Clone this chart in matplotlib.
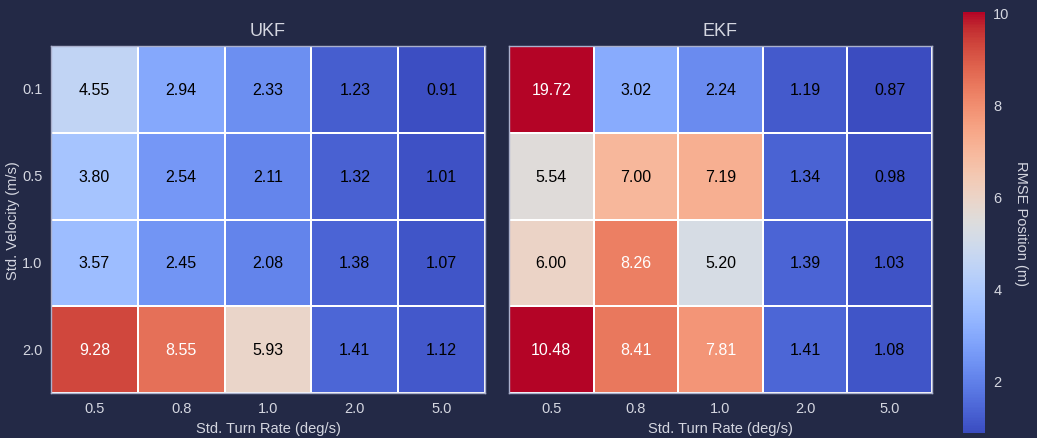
import matplotlib
matplotlib.use("Agg")
import matplotlib.pyplot as plt
import numpy as np
import seaborn as sns

plt.rcParams['font.family'] = ['Liberation Sans', 'DejaVu Sans']

turn_rates = ["0.5", "0.8", "1.0", "2.0", "5.0"]
velocities = ["0.1", "0.5", "1.0", "2.0"]

ukf_rmse = [
    [4.55, 2.94, 2.33, 1.23, 0.91],
    [3.80, 2.54, 2.11, 1.32, 1.01],
    [3.57, 2.45, 2.08, 1.38, 1.07],
    [9.28, 8.55, 5.93, 1.41, 1.12],
]
ekf_rmse = [
    [19.72, 3.02, 2.24, 1.19, 0.87],
    [5.54, 7.00, 7.19, 1.34, 0.98],
    [6.00, 8.26, 5.20, 1.39, 1.03],
    [10.48, 8.41, 7.81, 1.41, 1.08],
]
titles = ["UKF", "EKF"]

BG = "#232946"
FG = "#d4d6e0"

vmin = min(np.min(ukf_rmse), np.min(ekf_rmse))
vmax = 10

fig = plt.figure(figsize=(10.37, 4.39), dpi=100, facecolor=BG)
W, H = 1037, 439
def frac(x0, y0, x1, y1):
    return [x0 / W, (H - y1) / H, (x1 - x0) / W, (y1 - y0) / H]

ax1 = fig.add_axes(frac(51, 47, 485, 394))
ax2 = fig.add_axes(frac(509, 47, 932, 394))
cax = fig.add_axes(frac(963, 13, 985, 434))

for i, (ax, data, title) in enumerate(zip([ax1, ax2], [ukf_rmse, ekf_rmse], titles)):
    arr = np.array(data)
    sns.heatmap(arr, ax=ax, cmap="coolwarm", vmin=vmin, vmax=vmax,
                annot=False,
                linewidths=1.2, linecolor="white",
                xticklabels=turn_rates, yticklabels=velocities if i == 0 else False,
                cbar=(i == 1), cbar_ax=cax if i == 1 else None)
    for r in range(arr.shape[0]):
        for c in range(arr.shape[1]):
            v = arr[r, c]
            ax.text(c + 0.5, r + 0.5, f"{v:.2f}", ha="center", va="center",
                    fontsize=11.5, color="white" if v > 7.5 else "black")
    ax.set_facecolor(BG)
    ax.set_title(title, color=FG, fontsize=13, pad=8)
    ax.set_xlabel("Std. Turn Rate (deg/s)", color=FG, fontsize=10.5, labelpad=4)
    if i == 0:
        ax.set_ylabel("Std. Velocity (m/s)", color=FG, fontsize=10.5, labelpad=1.5)
    else:
        ax.set_ylabel("")
    ax.tick_params(colors=FG, labelsize=10.5, length=0, pad=6)
    ax.tick_params(axis='y', rotation=0)
    for s in ax.spines.values():
        s.set_visible(True)
        s.set_color("#aab0cc")
        s.set_linewidth(1)

cax.tick_params(colors=FG, labelsize=10.5, length=0, pad=6)
cax.set_yticks([2, 4, 6, 8, 10])
cax.set_ylabel("RMSE Position (m)", color=FG, fontsize=10.5, rotation=270, labelpad=13)
for s in cax.spines.values():
    s.set_visible(False)

fig.savefig("out.png", dpi=100, facecolor=BG)
